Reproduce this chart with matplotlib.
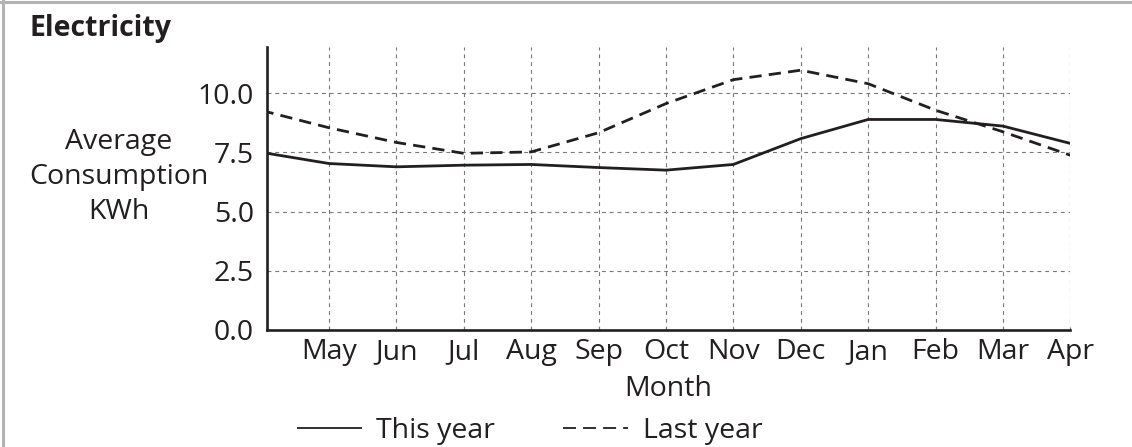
import matplotlib
matplotlib.use("Agg")
import matplotlib.pyplot as plt
from matplotlib.lines import Line2D
import numpy as np

# ---- data ----
months = ['May', 'Jun', 'Jul', 'Aug', 'Sep', 'Oct', 'Nov', 'Dec', 'Jan', 'Feb', 'Mar', 'Apr']
# first value is the start of the period (left edge), then one value per month
this_year = [7.50, 7.03, 6.89, 6.96, 6.99, 6.86, 6.75, 6.99, 8.08, 8.89, 8.89, 8.61, 7.88]
last_year = [9.27, 8.54, 7.92, 7.46, 7.52, 8.33, 9.56, 10.57, 10.97, 10.40, 9.28, 8.37, 7.38]
y_ticks = [0.0, 2.5, 5.0, 7.5, 10.0]

INK = '#231f20'
FS = 20.5
plt.rcParams['font.family'] = ['Open Sans', 'DejaVu Sans']
plt.rcParams['text.color'] = INK

W, H = 1132, 447
fig = plt.figure(figsize=(W / 100, H / 100), dpi=100)
ax = fig.add_axes([266.7 / W, 1 - 330 / H, (1070.3 - 266.7) / W, (330 - 47) / H])

x = np.arange(len(this_year))
ax.plot(x, this_year, color=INK, lw=2.0, solid_capstyle='butt', label='This year')
ax.plot(x, last_year, color=INK, lw=2.0, linestyle=(0, (4.4, 2.6)), label='Last year')

ax.set_xlim(0.076, 12)
ax.set_ylim(0, 11.95)
ax.set_xticks(np.arange(1, 13))
ax.set_xticklabels(months)
ax.set_yticks(y_ticks)
ax.set_yticklabels([f'{v:.1f}' for v in y_ticks])

ax.grid(True, color='#77787b', lw=0.8, linestyle=(0, (3.5, 3.5)))
ax.set_axisbelow(True)

for s in ['top', 'right']:
    ax.spines[s].set_visible(False)
for s in ['left', 'bottom']:
    ax.spines[s].set_linewidth(1.9)
    ax.spines[s].set_color(INK)

ax.tick_params(axis='x', direction='in', length=2.5, width=0.8, color='#77787b',
               labelsize=FS, labelcolor=INK, pad=5.5)
ax.tick_params(axis='y', length=0, labelsize=FS, labelcolor=INK, pad=9)

ax.set_xlabel('Month', fontsize=FS, color=INK, labelpad=7)

fig.text(118.5 / W, 1 - 177 / H, 'Average\nConsumption\nKWh', ha='center', va='center',
         multialignment='center', fontsize=FS, linespacing=1.32, color=INK)
fig.text(29 / W, 1 - 36 / H, 'Electricity', ha='left', va='baseline',
         fontsize=FS, fontweight='bold', color=INK)

leg = fig.legend(loc='center left', bbox_to_anchor=(297 / W, 1 - 431 / H), ncol=2,
                 frameon=False, fontsize=FS, handlelength=2.28, handletextpad=0.5,
                 columnspacing=2.4, borderaxespad=0, borderpad=0)
lines = leg.get_lines()
for lh in lines:
    lh.set_linewidth(1.3)
lines[1].set_linestyle((0, (7.2, 3.9)))

# light grey frame (top and left edges)
fig.add_artist(Line2D([0, 1], [1 - 1.5 / H, 1 - 1.5 / H], transform=fig.transFigure,
                      color='#b1b3b6', lw=2.2))
fig.add_artist(Line2D([2.5 / W, 2.5 / W], [0, 1], transform=fig.transFigure,
                      color='#b1b3b6', lw=2.2))

fig.savefig('out.png', dpi=100)
